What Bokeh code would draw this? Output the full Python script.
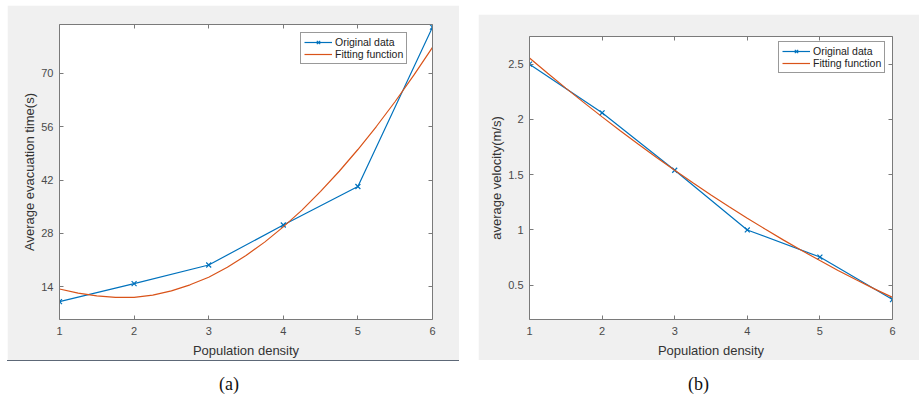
from bokeh.plotting import figure
from bokeh.models import (Range1d, LinearAxis, FixedTicker, Div, Spacer, Legend, LegendItem,
                          CustomJSTickFormatter)
from bokeh.layouts import row, column
from bokeh.embed import file_html
from bokeh.resources import INLINE

# ---- data ----
density = [1, 2, 3, 4, 5, 6]
evac_time = [10.1, 14.8, 19.7, 30.2, 40.3, 82.1]
fit_density = [1, 1.25, 1.5, 1.75, 2, 2.25, 2.5, 2.75, 3, 3.25, 3.5, 3.75,
               4, 4.25, 4.5, 4.75, 5, 5.25, 5.5, 5.75, 6]
evac_fit = [13.4, 12.3, 11.6, 11.2, 11.2, 11.8, 12.9, 14.5, 16.5, 19.1, 22.2, 25.7,
            29.7, 34.1, 39.0, 44.3, 50.0, 56.1, 62.6, 69.5, 76.8]
velocity = [2.50, 2.06, 1.54, 1.00, 0.755, 0.37]
vel_fit = [2.556, 2.418, 2.283, 2.152, 2.023, 1.897, 1.775, 1.656, 1.54, 1.427, 1.317, 1.210,
           1.106, 1.006, 0.908, 0.814, 0.723, 0.634, 0.549, 0.467, 0.39]
x_ticks = [1, 2, 3, 4, 5, 6]
evac_ticks = [14, 28, 42, 56, 70]
vel_ticks = [0.5, 1, 1.5, 2, 2.5]
x_label = "Population density"
evac_label = "Average evacuation time(s)"
vel_label = "average velocity(m/s)"
legend_labels = ["Original data", "Fitting function"]
captions = ["(a)", "(b)"]

BLUE = "#0072BD"
ORANGE = "#D95319"
AX = "#7a7a7a"
FONT = "Liberation Sans"


def style_axis(ax, ticks, show_labels=True):
    ax.ticker = FixedTicker(ticks=ticks)
    ax.axis_line_color = AX
    ax.axis_line_width = 1
    ax.major_tick_line_color = AX
    ax.major_tick_in = 4
    ax.major_tick_out = 0
    ax.minor_tick_line_color = None
    ax.major_label_text_font = FONT
    ax.major_label_text_color = "#4a4a4a"
    ax.major_label_text_font_size = "11px"
    if not show_labels:
        ax.formatter = CustomJSTickFormatter(code="return ''")
    ax.axis_label_text_font = FONT
    ax.axis_label_text_font_size = "13px"
    ax.axis_label_text_font_style = "normal"
    ax.axis_label_text_color = "#333333"


def make_panel(w, h, yr, bl, br, bt, bb, ys, fit_ys, yticks, ylabel, leg_loc, ylab_standoff):
    p = figure(width=w, height=h, x_range=Range1d(1, 6), y_range=Range1d(*yr),
               output_backend="svg", toolbar_location=None,
               min_border_left=bl, min_border_right=br, min_border_top=bt, min_border_bottom=bb,
               background_fill_color="white", border_fill_color="#f0f0f0",
               outline_line_color=None)
    p.grid.visible = False
    style_axis(p.xaxis[0], x_ticks)
    style_axis(p.yaxis[0], yticks)
    p.xaxis.axis_label = x_label
    p.yaxis.axis_label = ylabel
    p.xaxis.major_label_standoff = 7
    p.xaxis.axis_label_standoff = 5
    p.yaxis.major_label_standoff = 6
    p.yaxis.axis_label_standoff = ylab_standoff
    top = LinearAxis()
    style_axis(top, x_ticks, False)
    top.major_label_standoff = 0
    p.add_layout(top, "above")
    right = LinearAxis()
    style_axis(right, yticks, False)
    right.major_label_standoff = 0
    p.add_layout(right, "right")

    l1 = p.line(density, ys, line_color=BLUE, line_width=1.2)
    s1 = p.scatter(density, ys, marker="x", size=7, line_color=BLUE, line_width=1.2)
    l2 = p.line(fit_density, fit_ys, line_color=ORANGE, line_width=1.2)
    leg = Legend(items=[LegendItem(label=legend_labels[0], renderers=[l1, s1]),
                        LegendItem(label=legend_labels[1], renderers=[l2])],
                 location=leg_loc, padding=3, spacing=0, margin=0,
                 label_height=12, glyph_height=12, glyph_width=28, label_standoff=3,
                 label_text_font=FONT, label_text_font_size="10.5px",
                 label_text_color="#222222",
                 border_line_color="#333333", border_line_width=1,
                 background_fill_color="white", background_fill_alpha=1)
    p.add_layout(leg)
    return p


pa = make_panel(452, 355, (5.4, 82.8), 52, 27, 19, 41, evac_time, evac_fit,
                evac_ticks, evac_label, (241, 255), 1)
pb = make_panel(441, 346, (0.19, 2.75), 51, 27, 22, 38, velocity, vel_fit,
                vel_ticks, vel_label, (249, 246), 1)

line_sp = Spacer(width=452, height=1, styles={"background-color": "#5d6877"})
left_col = column(Spacer(width=452, height=5), pa, line_sp, spacing=0)
right_col = column(Spacer(width=441, height=14), pb, Spacer(width=441, height=1), spacing=0)
top_row = row(Spacer(width=7, height=361), left_col, Spacer(width=19, height=361), right_col, spacing=0)

cap_style = {"font-family": "Liberation Serif", "font-size": "18px", "text-align": "center",
             "line-height": "20px", "color": "#111111", "margin": "0", "padding": "0"}
cap_a = Div(text=captions[0], width=458, height=24, styles=cap_style)
cap_b = Div(text=captions[1], width=441, height=24, styles=cap_style)
cap_row = row(cap_a, Spacer(width=20, height=24), cap_b, spacing=0)

layout = column(top_row, Spacer(width=919, height=13), cap_row, spacing=0)

open("out.html", "w").write(file_html(layout, INLINE))
